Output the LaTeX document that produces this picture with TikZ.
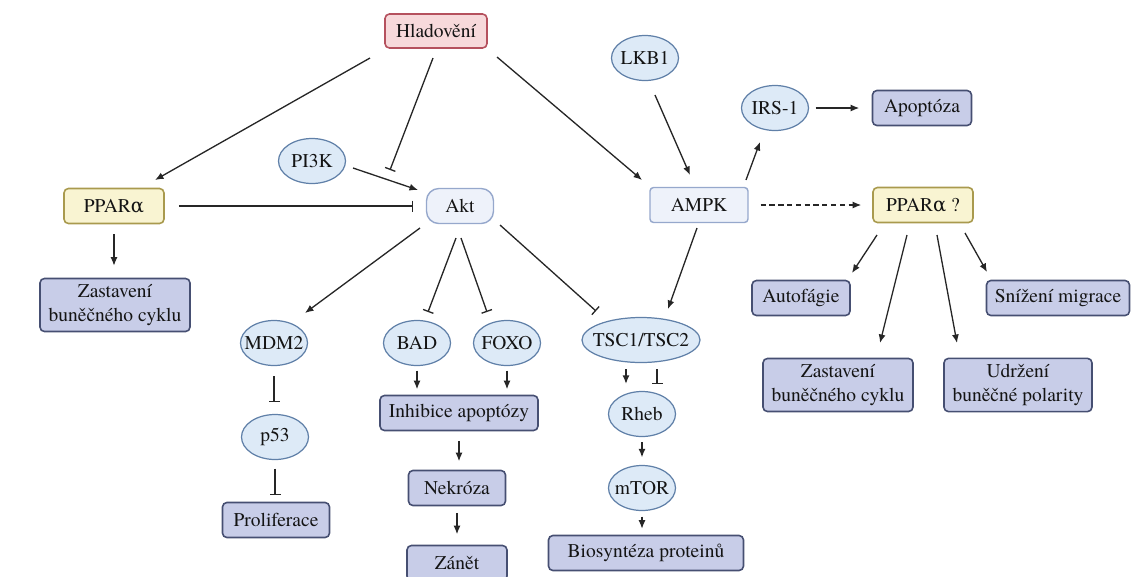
\documentclass[tikz,border=0pt]{standalone}
\usepackage{fontspec}
\setmainfont{texgyretermes-regular.otf}[BoldFont=texgyretermes-bold.otf]
\newfontfamily\grk{DejaVu Serif}
\usetikzlibrary{arrows.meta,shapes.geometric}
\definecolor{ellfill}{RGB}{221,234,247}
\definecolor{elldraw}{RGB}{96,128,168}
\definecolor{boxfill}{RGB}{200,205,232}
\definecolor{boxdraw}{RGB}{70,79,114}
\definecolor{starvefill}{RGB}{247,217,219}
\definecolor{starvedraw}{RGB}{181,81,94}
\definecolor{pparfill}{RGB}{249,244,210}
\definecolor{ppardraw}{RGB}{169,154,78}
\definecolor{kinfill}{RGB}{238,242,250}
\definecolor{kindraw}{RGB}{150,168,204}

\begin{document}
\begin{tikzpicture}[x=0.02cm,y=-0.02cm,
  every node/.style={font=\rmfamily\fontsize{11.1}{13.6}\selectfont,text=black!92},
  prot/.style={ellipse,draw=elldraw,fill=ellfill,line width=0.7pt,inner xsep=-1.3mm,minimum width=1.34cm,minimum height=0.9cm},
  outc/.style={rectangle,rounded corners=2.5pt,draw=boxdraw,fill=boxfill,line width=0.9pt,align=center,minimum height=0.7cm},
  kin/.style={rectangle,draw=kindraw,fill=kinfill,line width=0.8pt,minimum height=0.7cm},
  pparbox/.style={rectangle,rounded corners=2.5pt,draw=ppardraw,fill=pparfill,line width=0.9pt,minimum width=2.0cm,minimum height=0.7cm},
  act/.style={draw=black!85,line width=0.75pt,-{Latex[length=1.7mm,width=1.4mm]}},
  inh/.style={draw=black!85,line width=0.75pt,-{Bar[width=2.2mm]}}]
\useasboundingbox (0,0) rectangle (1134,576);
% nodes
\node[rectangle,rounded corners=2.5pt,draw=starvedraw,fill=starvefill,line width=0.9pt,minimum width=2.04cm,minimum height=0.68cm] (hlad) at (436,31) {Hladovění};
\node[pparbox] (ppar1) at (114,206) {PPAR{\grk α}};
\node[outc,minimum width=3.0cm,minimum height=1.0cm] (zast1) at (115,305) {Zastavení\\buněčného cyklu};
\node[prot] (pi3k) at (312,161) {PI3K};
\node[kin,rounded corners=7pt,minimum width=1.34cm] (akt) at (460,206) {Akt};
\node[prot] (lkb1) at (645,58) {LKB1};
\node[kin,rounded corners=2pt,minimum width=1.96cm] (ampk) at (699,205) {AMPK};
\node[prot] (irs1) at (775,108) {IRS-1};
\node[outc,minimum width=1.98cm] (apop) at (922,108) {Apoptóza};
\node[pparbox] (ppar2) at (923,205) {PPAR{\grk α} ?};
\node[outc,minimum width=1.96cm] (auto) at (801,298) {Autofágie};
\node[outc,minimum width=2.86cm] (sniz) at (1058,298) {Snížení migrace};
\node[outc,minimum width=3.0cm,minimum height=1.0cm] (zast2) at (838,385) {Zastavení\\buněčného cyklu};
\node[outc,minimum width=2.96cm,minimum height=1.0cm] (udrz) at (1018,385) {Udržení\\buněčné polarity};
\node[prot] (mdm2) at (274,343) {MDM2};
\node[prot] (p53) at (275,437) {p53};
\node[outc,minimum width=2.14cm] (prolif) at (276,520) {Proliferace};
\node[prot] (bad) at (417,343) {BAD};
\node[prot] (foxo) at (507,343) {FOXO};
\node[outc,minimum width=3.16cm] (inhib) at (459,413) {Inhibice apoptózy};
\node[outc,minimum width=1.94cm] (nekr) at (457,488) {Nekróza};
\node[outc,minimum width=2.0cm] (zanet) at (457,563) {Zánět};
\node[prot,minimum width=2.3cm] (tsc) at (641,340) {TSC1/TSC2};
\node[prot] (rheb) at (642,414) {Rheb};
\node[prot] (mtor) at (642,488) {mTOR};
\node[outc,minimum width=3.9cm] (bios) at (646,553) {Biosyntéza proteinů};
% upper connections
\draw[act] ([shift={(-66,27)}]hlad.center) -- ([shift={(41,-26)}]ppar1.center);
\draw[inh] ([shift={(-3,27)}]hlad.center) -- ([shift={(-70,-36)}]akt.center);
\draw[act] ([shift={(61,26)}]hlad.center) -- ([shift={(-57,-25)}]ampk.center);
\draw[act] ([shift={(41,7)}]pi3k.center) -- ([shift={(-42,-16)}]akt.center);
\draw[inh,shorten <=0.28cm,shorten >=0.25cm] (ppar1.east) -- (ppar1.east -| akt.west);
\draw[act,shorten <=0.2cm,shorten >=0.24cm] (ppar1.south) -- (ppar1.south |- zast1.north);
\draw[act] ([shift={(10,37)}]lkb1.center) -- ([shift={(-9,-30)}]ampk.center);
\draw[act] ([shift={(47,-25)}]ampk.center) -- ([shift={(-15,34)}]irs1.center);
\draw[act,shorten <=0.13cm,shorten >=0.25cm] (irs1.east) -- (apop.west);
\draw[act,dash pattern=on 3pt off 2pt,shorten <=0.24cm,shorten >=0.22cm] (ampk.east) -- (ppar2.west);
\foreach \dx/\dy/\tgt/\ex/\ey in {-46/30/auto/51/-25,-16/30/zast2/42/-42,14/30/udrz/-61/-42,42/28/sniz/-71/-26}{
  \draw[act] ([shift={(\dx,\dy)}]ppar2.center) -- ([shift={(\ex,\ey)}]\tgt.center);
}
% from Akt and AMPK down
\draw[act] ([shift={(-40,22)}]akt.center) -- ([shift={(31,-30)}]mdm2.center);
\draw[inh] ([shift={(-4,32)}]akt.center) -- ([shift={(11,-31)}]bad.center);
\draw[inh] ([shift={(1,32)}]akt.center) -- ([shift={(-20,-31)}]foxo.center);
\draw[inh] ([shift={(40,19)}]akt.center) -- ([shift={(-45,-29)}]tsc.center);
\draw[act] ([shift={(-2,23)}]ampk.center) -- ([shift={(27,-31)}]tsc.center);
% lower chains
\draw[inh,shorten <=0.2cm,shorten >=0.23cm] (mdm2.south) -- (mdm2.south |- p53.north);
\draw[inh,shorten <=0.17cm,shorten >=0.13cm] (p53.south) -- (p53.south |- prolif.north);
\draw[act,shorten <=0.09cm,shorten >=0.11cm] (bad.south) -- (bad.south |- inhib.north);
\draw[act,shorten <=0.09cm,shorten >=0.11cm] (foxo.south) -- (foxo.south |- inhib.north);
\draw[act,shorten <=0.19cm,shorten >=0.17cm] (inhib.south) -- (inhib.south |- nekr.north);
\draw[act,shorten <=0.13cm,shorten >=0.21cm] (nekr.south) -- (nekr.south |- zanet.north);
\draw[act] ([shift={(-15,6)}]tsc.south) -- ([shift={(-16,-7)}]rheb.north);
\draw[inh] ([shift={(16,6)}]tsc.south) -- ([shift={(15,-7)}]rheb.north);
\draw[act,shorten <=0.1cm,shorten >=0.15cm] (rheb.south) -- (rheb.south |- mtor.north);
\draw[act,shorten <=0.11cm,shorten >=0.12cm] (mtor.south) -- (mtor.south |- bios.north);
\end{tikzpicture}
\end{document}
